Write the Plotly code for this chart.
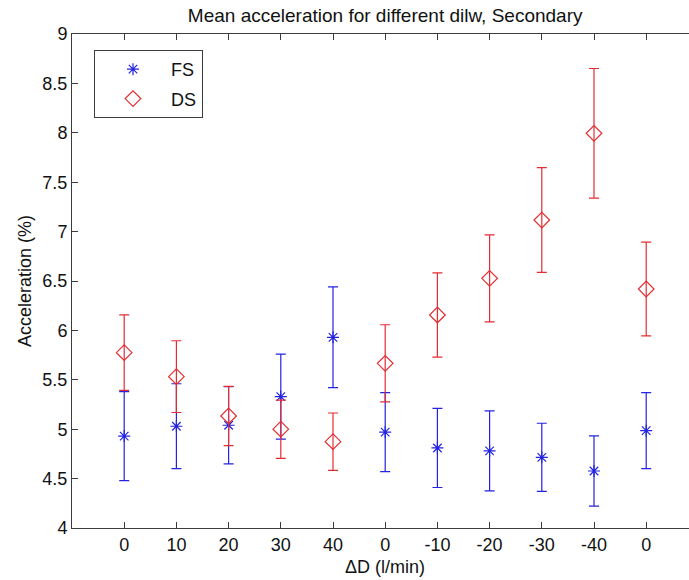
import plotly.graph_objects as go

# ---- data ----
positions = [1, 2, 3, 4, 5, 6, 7, 8, 9, 10, 11]
tick_labels = ["0", "10", "20", "30", "40", "0", "-10", "-20", "-30", "-40", "0"]

fs_mean = [4.93, 5.03, 5.04, 5.33, 5.93, 4.97, 4.81, 4.78, 4.715, 4.577, 4.985]
fs_err = [0.45, 0.43, 0.39, 0.43, 0.51, 0.40, 0.40, 0.405, 0.345, 0.356, 0.385]

ds_mean = [5.775, 5.532, 5.134, 5.0, 4.874, 5.667, 6.156, 6.527, 7.117, 7.995, 6.419]
ds_err = [0.383, 0.363, 0.30, 0.295, 0.29, 0.39, 0.427, 0.44, 0.53, 0.656, 0.475]

BLUE = "rgb(35,35,225)"
RED = "rgb(228,45,50)"
AX = "#3c3c3c"
FONT = "Liberation Sans, Arial, Helvetica, sans-serif"

W, H = 689, 580
ML, MR, MT, MB = 72, 0, 34, 52
px_per_unit = 52.2
xmax = (W - ML - MR) / px_per_unit

fig = go.Figure()
fig.add_trace(go.Scatter(
    x=positions, y=fs_mean, mode="markers", name="FS", legendgroup="fs",
    marker=dict(symbol="asterisk-open", size=10, color=BLUE, line=dict(color=BLUE, width=1.2)),
    error_y=dict(type="data", array=fs_err, visible=True, color=BLUE, thickness=1.2, width=5),
))
fig.add_trace(go.Scatter(
    x=positions, y=ds_mean, mode="markers", name="DS", legendgroup="ds",
    marker=dict(symbol="diamond-open", size=12, color=RED, line=dict(color=RED, width=1.2)),
    error_y=dict(type="data", array=ds_err, visible=True, color=RED, thickness=1.2, width=5),
))

# x label centred on the (uncropped) axes
axes_center_px = ML + 6 * px_per_unit
fig.add_annotation(
    text="ΔD (l/min)", xref="paper", yref="paper",
    x=(axes_center_px - ML) / (W - ML - MR), y=-(567 - (H - MB)) / (H - MT - MB),
    xanchor="center", yanchor="middle", showarrow=False,
    font=dict(family=FONT, size=18, color="#111"),
)

fig.update_layout(
    width=W, height=H,
    margin=dict(l=ML, r=MR, t=MT, b=MB, pad=0),
    paper_bgcolor="white", plot_bgcolor="white",
    font=dict(family=FONT, size=18, color="#111"),
    title=dict(text="Mean acceleration for different dilw, Secondary",
               x=axes_center_px / W, xref="container", xanchor="center",
               y=1 - 15 / H, yref="container", yanchor="middle",
               font=dict(family=FONT, size=19, color="#111")),
    xaxis=dict(range=[0, xmax], tickmode="array", tickvals=positions, ticktext=tick_labels,
               showgrid=False, zeroline=False, showline=True, linecolor=AX, linewidth=1,
               mirror="ticks", ticks="inside", ticklen=6, tickcolor=AX, tickwidth=1,
               tickfont=dict(family=FONT, size=18, color="#111")),
    yaxis=dict(range=[4, 9], tickmode="array", tickvals=[4, 4.5, 5, 5.5, 6, 6.5, 7, 7.5, 8, 8.5, 9],
               ticktext=["4", "4.5", "5", "5.5", "6", "6.5", "7", "7.5", "8", "8.5", "9"],
               showgrid=False, zeroline=False, showline=True, linecolor=AX, linewidth=1,
               ticks="inside", ticklen=6, tickcolor=AX, tickwidth=1,
               tickfont=dict(family=FONT, size=18, color="#111"),
               title=dict(text="Acceleration (%)", standoff=6,
                          font=dict(family=FONT, size=18, color="#111"))),
    showlegend=True,
    legend=dict(x=(94 - ML) / (W - ML - MR), y=1 - (50 - MT) / (H - MT - MB),
                xanchor="left", yanchor="top", bgcolor="white",
                bordercolor=AX, borderwidth=1, tracegroupgap=3,
                font=dict(family=FONT, size=18, color="#111"), itemwidth=66,
                entrywidth=110, entrywidthmode="pixels"),
)

fig.write_html("out.html")
